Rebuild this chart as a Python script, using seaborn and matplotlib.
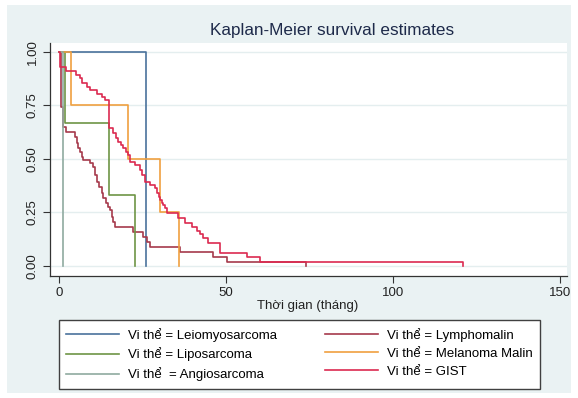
import matplotlib
matplotlib.use("Agg")
import matplotlib.pyplot as plt
from matplotlib.patches import Rectangle
from matplotlib.lines import Line2D
import seaborn as sns
import pandas as pd

# ---- data ----
groups = ["Leiomyosarcoma", "Lymphomalin", "Liposarcoma",
          "Melanoma Malin", "Angiosarcoma", "GIST"]
labels = ["Vi thể = Leiomyosarcoma", "Vi thể = Lymphomalin",
          "Vi thể = Liposarcoma", "Vi thể = Melanoma Malin",
          "Vi thể  = Angiosarcoma", "Vi thể = GIST"]

leio_t = [0, 26.0]
leio_s = [1.0, 0.0]

lymph_t = [0, 0.5, 1.2, 2.0, 4.8, 5.3, 5.8, 6.3, 6.8, 7.3, 9.3, 10.3, 10.8,
           11.3, 12.1, 12.8, 13.3, 14.1, 14.8, 15.3, 15.8, 16.3, 16.8, 22.2,
           25.2, 26.2, 27.2, 36.2, 46.0, 50.2, 74.0]
lymph_s = [1.0, 0.744, 0.65, 0.628, 0.604, 0.573, 0.55, 0.534, 0.511, 0.495,
           0.48, 0.464, 0.425, 0.394, 0.371, 0.34, 0.316, 0.293, 0.277, 0.262,
           0.23, 0.207, 0.184, 0.16, 0.137, 0.114, 0.09, 0.067, 0.044, 0.02, 0.0]

lipo_t = [0, 1.8, 15.0, 22.8]
lipo_s = [1.0, 0.667, 0.333, 0.0]

mel_t = [0, 3.6, 20.6, 30.2, 36.0]
mel_s = [1.0, 0.75, 0.5, 0.25, 0.0]

angio_t = [0, 1.1]
angio_s = [1.0, 0.0]

gist_t = [0, 0.3, 2.2, 5.2, 6.3, 6.8, 8.3, 9.3, 11.3, 12.8, 13.8, 15.1, 16.3,
          17.1, 17.8, 18.5, 19.3, 20.1, 20.6, 21.2, 22.8, 24.3, 24.8, 25.7,
          27.2, 28.7, 29.2, 29.8, 30.2, 30.7, 31.2, 31.7, 32.2, 35.7, 37.7,
          39.7, 41.2, 42.2, 43.2, 44.7, 48.2, 56.2, 60.2, 121.0]
gist_s = [1.0, 0.931, 0.911, 0.893, 0.877, 0.854, 0.838, 0.822, 0.802, 0.791,
          0.776, 0.643, 0.62, 0.60, 0.58, 0.565, 0.55, 0.534, 0.518, 0.487,
          0.472, 0.449, 0.425, 0.394, 0.379, 0.363, 0.34, 0.324, 0.308, 0.293,
          0.285, 0.27, 0.249, 0.223, 0.202, 0.184, 0.165, 0.15, 0.129, 0.106,
          0.059, 0.04, 0.019, 0.0]

colors = ["#4A729C", "#A63A4C", "#6E9545", "#F0A040", "#8FAAA0", "#DC2A50"]

series = {
    "Leiomyosarcoma": (leio_t, leio_s),
    "Lymphomalin": (lymph_t, lymph_s),
    "Liposarcoma": (lipo_t, lipo_s),
    "Melanoma Malin": (mel_t, mel_s),
    "Angiosarcoma": (angio_t, angio_s),
    "GIST": (gist_t, gist_s),
}
rows = []
for g in groups:
    t, s = series[g]
    for ti, si in zip(t, s):
        rows.append({"group": g, "time": ti, "surv": si})
df = pd.DataFrame(rows)

# ---- figure ----
W, H = 578, 398
fig = plt.figure(figsize=(W / 100, H / 100), dpi=100)
fig.patch.set_facecolor("white")
plt.rcParams['font.family'] = ['Liberation Sans', 'DejaVu Sans']

bg = Rectangle((7 / W, 5 / H), (571 - 7) / W, (393 - 5) / H,
               transform=fig.transFigure, facecolor="#EAF2F3",
               edgecolor="none", zorder=-10)
fig.patches.append(bg)

L, R, T, B = 50, 567, 43, 276
ax = fig.add_axes([L / W, (H - B) / H, (R - L) / W, (B - T) / H])
ax.set_zorder(1)
ax.set_facecolor("white")

palette = dict(zip(groups, colors))
sns.lineplot(data=df, x="time", y="surv", hue="group", hue_order=groups,
             palette=palette, estimator=None, sort=False, units="group",
             drawstyle="steps-post", linewidth=1.2, legend=False, ax=ax)

ax.set_xlim(-2.7, 152.1)
ax.set_ylim(-0.047, 1.042)
ax.set_xticks([0, 50, 100, 150])
ax.set_xticklabels(["0", "50", "100", "150"])
ax.set_yticks([0, 0.25, 0.5, 0.75, 1.0])
ax.set_yticklabels(["0.00", "0.25", "0.50", "0.75", "1.00"],
                   rotation=90, va="center")
ax.tick_params(axis="both", length=5, width=0.8, color="#333333",
               labelsize=9.5, labelcolor="#222222", pad=3)
ax.set_xlabel("")
ax.set_ylabel("")
for sp in ["top", "right"]:
    ax.spines[sp].set_visible(False)
for sp in ["left", "bottom"]:
    ax.spines[sp].set_color("#333333")
    ax.spines[sp].set_linewidth(0.9)
ax.yaxis.grid(True, color="#E4EEEF", linewidth=1.0)
ax.xaxis.grid(False)
ax.set_axisbelow(True)

fig.text(308 / W, 1 - 306 / H, "Thời gian (tháng)", ha="center", va="center",
         fontsize=9.5, color="#222222")
fig.text(332 / W, 1 - 30 / H, "Kaplan-Meier survival estimates", ha="center",
         va="center", fontsize=12.3, color="#1E2A4A")

order = [0, 2, 4, 1, 3, 5]
handles = [Line2D([], [], color=colors[i], linewidth=1.2) for i in order]
leg_labels = [labels[i] for i in order]
leg = ax.legend(handles, leg_labels, ncol=2, loc="center",
                bbox_to_anchor=(59 / W, 1 - 388 / H, (540 - 59) / W, (388 - 321) / H),
                bbox_transform=fig.transFigure, mode="expand", frameon=True,
                fancybox=False, edgecolor="#404040", facecolor="white",
                fontsize=9.5, handlelength=4.0, handletextpad=0.7,
                labelspacing=0.45, borderpad=0.55, borderaxespad=0,
                columnspacing=2.5)
leg.get_frame().set_linewidth(1.0)
leg.get_frame().set_alpha(1)

fig.savefig("out.png", dpi=100)
